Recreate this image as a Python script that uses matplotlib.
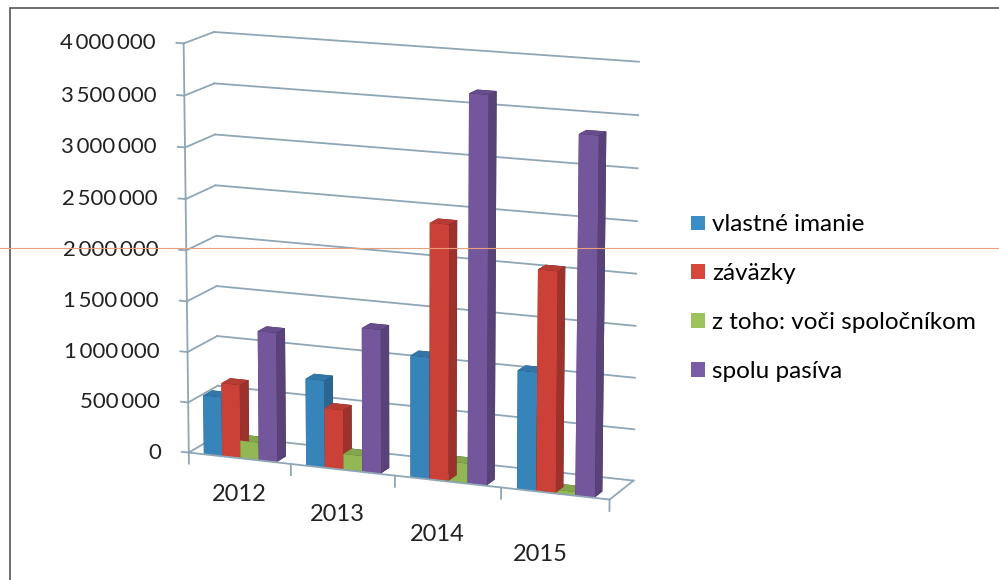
import numpy as np
import matplotlib.pyplot as plt
from matplotlib.patches import Patch, Rectangle
from matplotlib.lines import Line2D
from matplotlib.colors import LightSource
from mpl_toolkits.mplot3d import proj3d

plt.rcParams['font.family'] = ['Lato', 'DejaVu Sans']

years = ['2012', '2013', '2014', '2015']
series_names = ['vlastné imanie', 'záväzky', 'z toho: voči spoločníkom', 'spolu pasíva']
vlastne_imanie = [580000, 850000, 1180000, 1140000]
zavazky = [720000, 580000, 2470000, 2120000]
voci_spolocnikom = [170000, 150000, 190000, 30000]
spolu_pasiva = [1270000, 1400000, 3720000, 3420000]
zticks = list(range(0, 4000001, 500000))

colors = ['#3b8dc8', '#d9463b', '#9cc45a', '#7b5ca6']
grid_c = '#8ea6b6'
txt_c = '#222222'
series = [vlastne_imanie, zavazky, voci_spolocnikom, spolu_pasiva]

fig = plt.figure(figsize=(9.99, 5.8), dpi=100)
ax = fig.add_axes([0.041, 0.035, 0.72, 1.0], projection='3d')
ax.computed_zorder = False
ax.set_proj_type('persp', focal_length=1.3)
ax.view_init(elev=13, azim=-68)
xmin, xmax, ymin, ymax = -0.5, 3.5, 0.0, 1.0
ax.set_xlim(xmin, xmax)
ax.set_ylim(ymin, ymax)
ax.set_zlim(0, 4000000)
ax.set_box_aspect((4.4, 0.7, 4.1), zoom=1.05)
ax.set_axis_off()

# gridlines on back wall and left wall, ticks on vertical axis
for z in zticks:
    ax.plot([xmin, xmax], [ymax, ymax], [z, z], color=grid_c, lw=1.3, zorder=1)
    ax.plot([xmin, xmin], [ymin, ymax], [z, z], color=grid_c, lw=1.3, zorder=1)
    ax.plot([xmin - 0.07, xmin], [ymin, ymin], [z, z], color=grid_c, lw=1.3, zorder=1)
ax.plot([xmin, xmin], [ymin, ymin], [0, zticks[-1]], color=grid_c, lw=1.3, zorder=1)

# bars (one collection so faces sort correctly)
n = len(years)
bw = 0.18
xs, hs, cs = [], [], []
for i, vals in enumerate(series):
    for j in range(n):
        xs.append(j - 2 * bw + i * bw)
        hs.append(vals[j])
        cs.append(colors[i])
ax.bar3d(xs, 0.03, 0, bw, 0.3, hs, color=cs, shade=True, zorder=2,
         lightsource=LightSource(azdeg=166, altdeg=33))

# floor edges and category ticks
ax.plot([xmin, xmax], [ymin, ymin], [0, 0], color=grid_c, lw=1.3, zorder=3)
ax.plot([xmax, xmax], [ymin, ymax], [0, 0], color=grid_c, lw=1.3, zorder=3)
for b in np.arange(xmin, xmax + 0.01, 1.0):
    ax.plot([b, b], [ymin, ymin], [0, -110000], color=grid_c, lw=1.3, zorder=3)

# labels placed at projected 3D positions
fig.canvas.draw()


def screen(x, y, z):
    xp, yp, _ = proj3d.proj_transform(x, y, z, ax.get_proj())
    return ax.transData.transform((xp, yp))


for z in zticks:
    ax.annotate(f"{z:,}".replace(',', '\u2009'), xy=screen(xmin, ymin, z),
                xycoords='figure pixels', xytext=(-28, 0), textcoords='offset pixels',
                ha='right', va='center', fontsize=16, color=txt_c)
for j, yr in enumerate(years):
    ax.annotate(yr, xy=screen(j - 0.03, ymin, 0), xycoords='figure pixels',
                xytext=(3 - 5 * j, -37 - 8 * j), textcoords='offset pixels',
                ha='center', va='center', fontsize=17, color=txt_c)

handles = [Patch(facecolor=c, edgecolor='none') for c in colors]
fig.legend(handles, series_names, loc='upper left', bbox_to_anchor=(0.67, 0.668),
           frameon=False, fontsize=17.5, handlelength=0.55, handleheight=0.55,
           labelspacing=1.15, handletextpad=0.3)

# scanned page border and line
fig.add_artist(Rectangle((0.01, -0.1), 1.2, 1.086, transform=fig.transFigure,
                         fill=False, ec='#555555', lw=1.2))
fig.add_artist(Line2D([0, 1], [0.572, 0.572], transform=fig.transFigure,
                      color='#e8a07a', lw=0.8))

fig.savefig('out.png', dpi=100)
